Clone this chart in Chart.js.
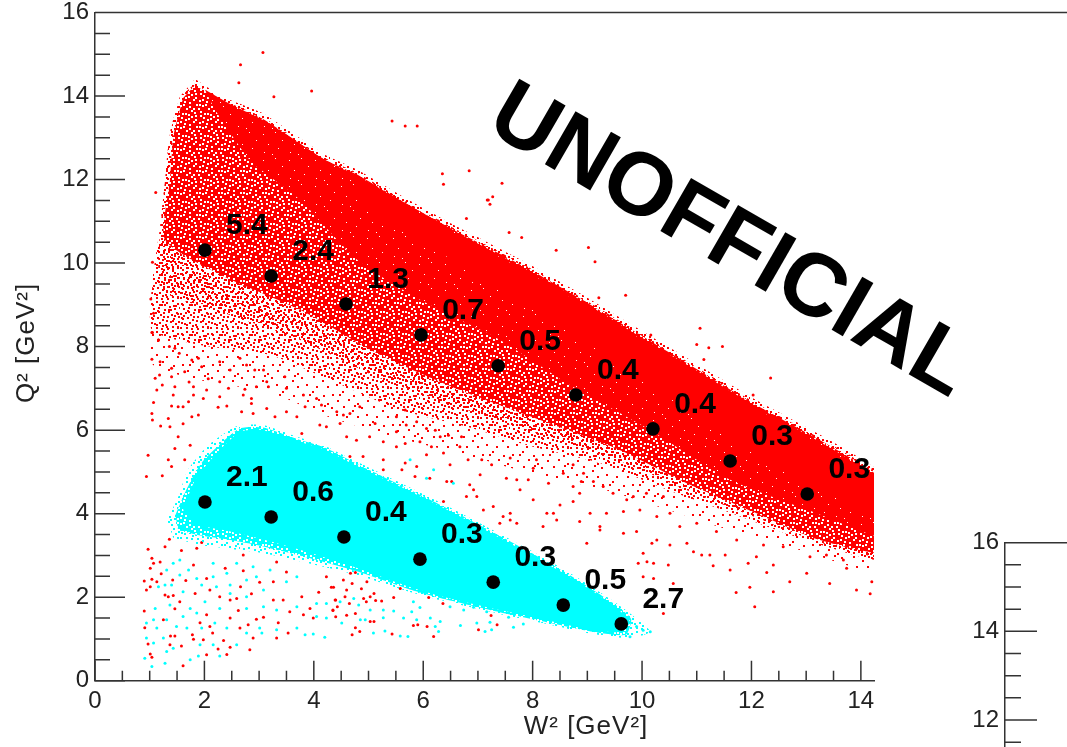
<!DOCTYPE html>
<html lang="en">
<head>
    <meta charset="UTF-8">
    <title>Q2 vs W2 coverage</title>
    <script src="https://cdn.jsdelivr.net/npm/chart.js"></script>
    <style>
        html, body { margin: 0; padding: 0; width: 1067px; height: 747px; overflow: hidden; background: #fff; }
        canvas { position: absolute; }
        #mainChart { left: 0; top: 0; }
        #nextChart { left: 960px; top: 530px; }
    </style>
</head>
<body>
    <canvas id="mainChart" width="1067" height="747"></canvas>
    <canvas id="nextChart" width="900" height="760"></canvas>

    <script>
        // Axis ticks
        const xMajor = [0, 2, 4, 6, 8, 10, 12, 14];
        const xMinor = [0.5, 1, 1.5, 2.5, 3, 3.5, 4.5, 5, 5.5, 6.5, 7, 7.5, 8.5, 9, 9.5, 10.5, 11, 11.5, 12.5, 13, 13.5];
        const yMajor = [0, 2, 4, 6, 8, 10, 12, 14, 16];
        const yMinor = [0.5, 1, 1.5, 2.5, 3, 3.5, 4.5, 5, 5.5, 6.5, 7, 7.5, 8.5, 9, 9.5, 10.5, 11, 11.5, 12.5, 13, 13.5, 14.5, 15, 15.5];

        // Black bin centres with their values
        const upperW = [2.01, 3.22, 4.59, 5.96, 7.37, 8.79, 10.2, 11.61, 13.02];
        const upperQ = [10.31, 9.69, 9.02, 8.28, 7.54, 6.84, 6.03, 5.26, 4.47];
        const upperValues = ['5.4', '2.4', '1.3', '0.7', '0.5', '0.4', '0.4', '0.3', '0.3'];
        const lowerW = [2.01, 3.22, 4.55, 5.94, 7.28, 8.56, 9.62];
        const lowerQ = [4.28, 3.92, 3.44, 2.91, 2.36, 1.81, 1.36];
        const lowerValues = ['2.1', '0.6', '0.4', '0.3', '0.3', '0.5', '2.7'];

        // The event clouds are far too dense to read point by point, so their
        // bodies are outlines traced off the picture and filled with a speckle
        const redThinW = [1.83, 2.34, 3.07, 4.17, 4.79, 5.63, 6.62, 7.04, 8.01, 8.87, 9.65, 10.69, 11.92, 14.53, 14.53, 12.83, 11.61, 10.46, 9.23, 8.01, 6.80, 5.58, 4.30, 3.20, 1.92, 1.04, 1.06, 1.19];
        const redThinQ = [14.33, 13.90, 13.50, 12.54, 12.16, 11.51, 10.79, 10.51, 9.84, 9.19, 8.57, 7.75, 6.77, 4.71, 2.60, 3.15, 3.60, 4.10, 4.60, 4.95, 5.40, 5.80, 6.30, 6.90, 7.20, 7.60, 9.67, 10.87];
        const redEnvelopeW = [1.83, 2.34, 3.07, 4.17, 4.79, 5.63, 6.62, 7.04, 8.01, 8.87, 9.65, 10.69, 11.92, 14.53, 14.53, 12.83, 11.61, 10.46, 9.23, 8.01, 6.80, 5.58, 4.30, 3.20, 1.92, 1.04, 1.06, 1.19, 1.28, 1.37, 1.55];
        const redEnvelopeQ = [14.41, 13.98, 13.58, 12.62, 12.24, 11.59, 10.87, 10.59, 9.92, 9.27, 8.65, 7.83, 6.85, 4.79, 2.89, 3.44, 4.02, 4.57, 5.21, 5.60, 6.08, 6.48, 7.20, 7.80, 8.04, 8.40, 9.67, 10.87, 11.99, 13.11, 13.98];
        const redBlendW = [1.83, 2.34, 3.07, 4.17, 4.79, 5.63, 6.62, 7.04, 8.01, 8.87, 9.65, 10.69, 11.92, 14.53, 14.53, 13.25, 12.16, 10.88, 9.60, 8.14, 6.67, 5.21, 3.75, 2.29, 1.20, 1.28, 1.37, 1.55];
        const redBlendQ = [14.30, 13.89, 13.49, 12.54, 12.16, 11.51, 10.79, 10.51, 9.84, 9.19, 8.57, 7.75, 6.77, 4.71, 2.98, 3.31, 3.87, 4.53, 5.26, 5.90, 6.54, 7.24, 8.16, 8.84, 9.40, 11.99, 13.09, 13.97];
        const redMidW = [1.83, 2.34, 3.07, 4.17, 4.79, 5.63, 6.62, 7.04, 8.01, 8.87, 9.65, 10.69, 11.92, 14.53, 14.53, 13.25, 12.16, 10.88, 9.60, 8.14, 6.67, 5.21, 3.75, 2.29, 1.28, 1.37, 1.44, 1.61];
        const redMidQ = [14.26, 13.85, 13.45, 12.50, 12.12, 11.47, 10.75, 10.47, 9.80, 9.15, 8.53, 7.71, 6.73, 4.67, 3.08, 3.37, 3.97, 4.69, 5.52, 6.24, 6.96, 7.80, 8.88, 9.72, 10.55, 11.99, 13.07, 13.95];
        const redCoreW = [2.01, 2.47, 3.11, 4.20, 4.81, 5.67, 6.64, 8.01, 8.87, 9.65, 10.69, 11.92, 14.53, 14.53, 13.13, 11.61, 10.15, 8.68, 7.40, 5.94, 4.79, 3.75, 2.83, 2.19];
        const redCoreQ = [14.15, 13.81, 13.40, 12.47, 12.08, 11.44, 10.72, 9.76, 9.12, 8.49, 7.67, 6.70, 4.64, 3.41, 4.04, 4.81, 6.00, 7.08, 8.16, 9.12, 10.08, 11.51, 12.47, 13.67];
        const redSolidW = [4.81, 6.64, 8.01, 9.65, 11.92, 14.53, 14.53, 12.52, 10.69, 9.23, 7.40, 5.94, 4.84];
        const redSolidQ = [12.04, 10.67, 9.71, 8.44, 6.65, 4.59, 3.84, 5.05, 6.60, 7.92, 9.36, 10.55, 11.39];
        const cyanEnvelopeW = [1.32, 1.52, 1.70, 2.07, 2.60, 3.07, 3.69, 4.17, 4.79, 5.70, 6.62, 7.95, 8.74, 9.47, 9.84, 10.15, 9.78, 9.10, 8.26, 7.40, 6.31, 5.70, 4.79, 3.88, 2.96, 2.34, 1.92, 1.43];
        const cyanEnvelopeQ = [3.85, 4.40, 5.05, 5.64, 6.10, 6.12, 5.84, 5.64, 5.24, 4.66, 4.06, 3.13, 2.53, 1.91, 1.55, 1.17, 1.02, 1.12, 1.36, 1.60, 1.93, 2.15, 2.53, 2.82, 3.08, 3.18, 3.25, 3.42];
        const cyanMidW = [1.47, 1.68, 1.95, 2.63, 3.07, 3.69, 4.17, 4.79, 5.70, 6.62, 7.95, 8.74, 9.47, 9.80, 9.70, 9.10, 8.26, 7.40, 6.31, 5.70, 4.79, 3.88, 2.96, 2.34, 1.88, 1.52];
        const cyanMidQ = [3.97, 4.60, 5.22, 6.03, 6.06, 5.79, 5.60, 5.19, 4.61, 4.01, 3.08, 2.48, 1.86, 1.48, 1.10, 1.17, 1.40, 1.64, 1.98, 2.21, 2.62, 2.95, 3.25, 3.40, 3.49, 3.60];
        const cyanSolidW = [1.61, 1.83, 2.19, 2.65, 3.07, 3.69, 4.17, 4.79, 5.70, 6.62, 7.95, 8.74, 9.47, 9.78, 9.60, 9.10, 8.26, 7.40, 6.31, 5.70, 4.79, 3.88, 2.96, 2.34, 1.83];
        const cyanSolidQ = [4.09, 4.81, 5.40, 5.96, 6.00, 5.74, 5.55, 5.14, 4.57, 3.97, 3.03, 2.44, 1.81, 1.41, 1.17, 1.21, 1.45, 1.69, 2.03, 2.27, 2.70, 3.08, 3.42, 3.61, 3.73];

        // Loose events, read one by one from the sparse parts of the picture
        const redLooseW = [
            0.97, 1.04, 1.07, 1.19, 1.01, 1.21, 0.90, 1.04, 1.13, 1.01, 0.94, 1.34, 1.43, 1.28, 1.42, 1.66, 1.80, 1.86, 1.95, 1.58, 1.36, 1.28,
            2.04, 1.83, 2.10, 2.47, 2.59, 2.28, 2.66, 2.86, 3.01, 3.26, 3.50, 3.32, 2.71, 2.38, 2.71, 3.44, 3.78, 3.93, 4.09, 4.23, 4.32, 4.39, 4.35,
            3.56, 3.81, 3.35, 3.53, 3.32, 2.89, 2.83, 2.47, 2.25, 2.41, 2.04, 1.61, 1.04, 1.01, 1.58, 1.38, 1.46, 1.78, 1.80, 1.98, 2.15, 2.35,
            2.65, 2.80, 2.95, 3.08, 2.62, 2.04, 1.92, 1.55, 1.46, 1.25, 0.91, 0.90, 0.97, 1.37, 2.10, 2.47, 3.26, 3.99,
            4.67, 4.76, 4.54, 4.70, 4.97, 4.87, 4.60, 4.36, 4.57, 5.10, 5.03, 4.91, 5.24, 4.40, 4.43, 4.65, 4.35, 4.60, 4.40, 4.76,
            4.96, 5.13, 5.46, 5.58, 6.10, 6.30, 6.36, 5.03, 5.10, 4.76, 4.84, 4.70, 5.43, 5.82, 5.90, 6.07, 6.19, 7.24, 7.35, 7.01,
            1.07, 1.05, 1.16, 1.36, 1.46, 1.54, 1.04, 1.19, 1.40, 1.64, 1.18, 1.10, 1.40, 1.23, 1.13, 1.46, 1.43, 1.72, 1.80, 1.80, 1.71, 1.61, 1.52, 1.40,
            1.07, 1.04, 1.05, 1.34, 1.20, 1.37, 1.61, 1.77, 1.89, 1.98, 2.04, 2.07, 2.28, 2.44, 2.28, 2.25, 2.41, 2.74, 2.95, 3.17, 2.71, 2.86, 2.86, 2.68,
            2.89, 3.14, 3.29, 3.50, 3.69, 3.84, 3.81, 4.05, 4.14, 3.50, 3.14, 3.47, 3.08, 2.92, 2.65, 2.28, 1.89, 1.95, 2.47, 2.77, 1.77,
            0.97, 1.34, 1.40, 1.46, 1.64, 0.94, 1.23, 1.52, 1.74, 4.42, 4.23, 4.54, 4.66, 4.84, 4.11, 4.48, 4.78, 4.60, 5.02, 5.27, 5.51, 5.69, 5.27, 4.90, 4.66, 5.27, 5.51, 5.12, 5.51, 3.78,
            5.67, 5.88, 6.06, 6.22, 5.94, 5.67, 6.31, 6.46, 6.70, 6.15, 6.37, 6.67, 6.49, 6.06, 5.88, 5.67, 5.61, 5.85, 6.12, 6.43,
            6.82, 7.07, 6.85, 7.04, 7.25, 7.59, 7.28, 7.52, 7.71, 7.92, 8.07, 8.01, 8.29, 8.56, 8.74, 8.93, 8.89, 8.74, 9.11, 9.29, 9.47, 9.72, 9.84, 10.08, 10.39,
            8.26, 8.38, 8.50, 8.74, 8.86, 9.05, 9.35, 9.66, 9.96, 10.27, 10.51, 7.59, 7.46, 7.71, 6.79, 6.98, 7.10, 6.37, 6.92, 6.52, 7.77, 8.01, 7.40, 8.44, 9.23, 8.19, 8.86, 7.59,
            10.69, 11.00, 11.36, 11.73, 12.22, 12.58, 13.07, 13.68, 13.74, 13.01, 12.70, 13.43, 13.92, 14.17, 14.20, 12.40, 11.97, 11.72, 12.06, 12.28, 12.40, 11.94, 11.61, 11.30,
            10.94, 10.82, 10.51, 10.18, 10.02, 10.09, 9.93, 10.21, 10.48, 10.02, 10.21, 10.57, 10.39, 10.27, 9.66, 9.23, 8.99, 9.90, 11.24, 11.52, 11.09, 12.09, 13.37,
            3.07, 2.66, 2.63, 3.27, 3.96, 5.43, 5.67, 5.89, 6.35, 6.84, 6.37, 7.19, 6.79, 1.11, 1.05, 1.02, 1.16, 1.04,
            7.44, 7.27, 7.17, 7.22, 7.57, 7.80, 8.43, 9.02, 9.14, 9.21, 9.70, 10.16, 11.06, 11.00, 11.22, 11.47, 11.13, 12.35, 12.03
        ];
        const redLooseQ = [
            3.15, 2.93, 2.81, 2.84, 2.69, 2.56, 2.39, 2.43, 2.37, 2.25, 2.17, 2.01, 2.04, 2.05, 2.41, 2.40, 2.77, 3.17, 3.31, 3.12, 3.39, 3.21,
            2.45, 2.09, 2.17, 1.93, 1.97, 2.01, 2.25, 2.08, 2.36, 2.37, 2.60, 2.84, 3.01, 2.69, 2.63, 1.93, 2.01, 1.73, 2.12, 2.49, 2.24, 1.93, 1.69,
            1.65, 1.58, 1.39, 1.14, 1.02, 1.02, 0.74, 0.80, 0.76, 0.63, 0.62, 0.36, 0.56, 0.64, 0.83, 1.07, 1.07, 1.10, 0.99, 0.98, 1.14, 0.96,
            1.26, 1.34, 1.47, 1.52, 1.68, 1.58, 1.39, 1.89, 1.72, 1.46, 1.27, 1.67, 0.88, 0.86, 1.30, 1.50, 1.93, 1.50,
            2.57, 2.59, 2.41, 2.33, 2.37, 2.20, 2.17, 2.24, 2.01, 2.09, 2.01, 1.97, 1.91, 1.93, 1.77, 1.85, 1.68, 1.57, 1.53, 1.61,
            1.89, 1.92, 1.99, 2.21, 1.99, 2.05, 1.85, 1.42, 1.42, 1.27, 1.18, 1.10, 1.12, 1.32, 1.34, 1.30, 1.06, 1.56, 1.34, 1.22,
            8.80, 8.34, 8.16, 8.00, 7.96, 7.84, 7.70, 7.64, 7.48, 7.40, 7.32, 7.24, 7.28, 7.08, 6.96, 7.04, 6.84, 7.15, 7.04, 6.84, 6.68, 6.56, 6.56, 6.58,
            6.66, 6.40, 6.24, 6.28, 6.10, 6.08, 6.15, 6.32, 6.36, 6.76, 6.96, 7.23, 7.16, 7.00, 6.80, 6.55, 6.58, 6.98, 7.04, 7.04, 6.84, 6.76, 6.64, 6.44,
            6.40, 6.52, 6.32, 6.44, 6.32, 6.56, 6.84, 6.76, 6.60, 7.00, 7.16, 7.28, 7.44, 7.44, 7.72, 7.64, 7.72, 7.52, 7.44, 7.56, 7.68,
            5.40, 5.29, 5.13, 5.56, 5.29, 4.89, 4.91, 5.84, 5.64, 6.44, 6.08, 6.36, 6.40, 6.56, 6.12, 6.16, 5.76, 5.84, 5.84, 5.72, 5.96, 6.12, 5.05, 5.37, 5.37, 5.29, 5.60, 6.16, 6.32, 5.92,
            6.48, 6.20, 6.04, 6.00, 5.72, 5.68, 5.84, 5.88, 5.84, 5.60, 5.45, 5.60, 5.17, 5.41, 5.13, 5.21, 5.05, 4.89, 4.85, 4.77,
            5.29, 5.29, 4.69, 4.93, 5.17, 5.33, 4.17, 4.85, 4.81, 4.81, 5.29, 5.09, 4.73, 4.97, 5.17, 4.97, 4.77, 4.65, 4.77, 4.65, 4.49, 4.33, 4.41, 4.49, 4.41,
            4.01, 4.01, 4.21, 4.29, 4.49, 4.01, 4.01, 4.05, 4.09, 3.93, 4.01, 4.01, 3.93, 3.77, 4.41, 4.41, 4.09, 4.29, 4.57, 4.77, 4.57, 4.33, 3.77, 3.85, 3.69, 3.69, 3.81, 3.85,
            3.69, 3.77, 3.57, 3.37, 3.25, 3.21, 2.97, 2.89, 2.69, 2.57, 2.37, 2.33, 2.17, 2.08, 2.37, 2.13, 2.24, 2.11, 1.77, 2.59, 2.77, 2.81, 2.65, 2.75,
            3.09, 3.29, 3.25, 3.29, 3.05, 2.85, 2.81, 2.81, 2.77, 2.49, 2.45, 2.33, 1.61, 3.37, 3.53, 3.61, 3.29, 3.57, 3.01, 3.01, 3.01, 2.97, 3.01,
            15.04, 14.75, 14.32, 13.98, 14.12, 13.40, 13.28, 13.28, 12.14, 12.21, 11.89, 11.51, 11.07, 11.69, 10.02, 9.14, 8.16, 8.34,
            11.91, 11.59, 11.51, 11.41, 10.73, 10.61, 10.31, 10.37, 10.03, 9.17, 9.23, 8.28, 8.44, 8.05, 7.97, 8.00, 7.69, 7.25, 6.84
        ];
        const cyanLooseW = [
            1.43, 1.31, 1.55, 1.71, 1.55, 1.40, 1.86, 1.61, 1.16, 1.28, 1.95, 2.16, 2.16, 2.41, 2.59, 2.89, 2.47, 2.77, 2.95, 3.20, 3.69, 3.50, 3.08, 2.77, 2.47, 2.22,
            2.01, 1.74, 1.37, 1.10, 1.07, 0.94, 1.13, 1.31, 1.61, 1.86, 2.28, 2.77, 3.08, 3.32, 3.69, 4.05, 4.23, 4.05, 4.23, 3.69, 3.32, 3.01, 2.77, 2.41, 2.19, 1.95,
            1.68, 1.49, 1.25, 1.07, 0.94, 1.43, 1.31, 1.92, 2.16, 2.59, 0.91, 1.04, 1.28, 1.74, 1.89, 2.28, 3.05, 3.84, 3.99, 4.20,
            4.48, 4.73, 4.82, 5.27, 5.46, 5.03, 5.82, 5.94, 5.79, 6.13, 5.64, 5.88, 6.31, 5.27, 4.94, 4.85, 4.51, 5.09, 5.30, 5.58, 5.72, 6.22, 6.28, 6.68, 6.98, 7.22, 7.13, 7.25, 7.56, 7.65, 7.83, 6.49, 6.74, 6.92, 7.16,
            9.78, 10.02, 10.15, 9.90, 5.76, 6.06, 6.55, 6.19
        ];
        const cyanLooseQ = [
            2.81, 2.65, 2.89, 2.65, 2.53, 2.29, 2.45, 2.13, 2.25, 2.29, 2.29, 2.81, 2.49, 2.57, 2.81, 2.73, 2.29, 2.41, 2.49, 2.65, 2.49, 2.37, 2.17, 2.01, 2.09, 2.25,
            1.89, 1.73, 1.81, 1.73, 1.46, 1.38, 1.26, 1.46, 1.54, 1.62, 1.73, 1.73, 1.77, 1.69, 1.77, 1.85, 1.85, 1.54, 1.50, 1.26, 1.22, 1.26, 1.14, 1.26, 1.38, 1.26,
            1.26, 1.30, 1.02, 0.90, 1.02, 0.78, 0.70, 0.86, 0.86, 0.86, 0.54, 0.34, 0.42, 0.50, 0.59, 0.59, 1.14, 1.10, 1.12, 1.04,
            1.89, 1.97, 1.81, 1.69, 1.67, 1.69, 1.89, 1.75, 1.65, 1.50, 1.50, 1.46, 1.42, 1.51, 1.46, 1.46, 1.38, 1.14, 1.19, 1.07, 1.06, 1.30, 1.18, 1.32, 1.38, 1.40, 1.18, 1.22, 1.52, 1.28, 1.36, 1.77, 1.69, 1.76, 1.65,
            1.05, 1.21, 1.17, 1.30, 5.29, 4.85, 4.73, 5.05
        ];

        // Speckle tiles, dot positions placed by hand
        const thinDots = [[2,4],[12,1],[23,5],[7,10],[18,9],[27,13],[1,17],[13,16],[22,20],[6,24],[16,26],[27,26],[9,4],[24,15]];
        const sparseDots = [[1,3],[6,1],[11,4],[16,2],[22,0],[27,3],[3,8],[8,7],[14,9],[19,6],[24,8],[29,7],[0,13],[5,12],[10,14],[13,12],[18,11],[21,14],[26,12],[2,18],[7,17],[12,19],[17,16],[23,18],[28,16],[4,23],[9,22],[15,24],[20,21],[25,23],[0,27],[6,27],[11,28],[17,28],[22,26],[27,27],[14,4],[25,5],[8,11],[20,9],[3,15],[16,20],[28,21],[12,25],[1,22]];
        const blendDots = [[1,2],[6,0],[11,3],[16,1],[3,6],[9,7],[14,6],[18,9],[0,10],[6,11],[12,11],[16,13],[3,14],[9,15],[14,16],[0,17],[6,18],[11,18]];
        const midHoles = [[2,1],[9,3],[15,0],[19,5],[5,7],[12,8],[1,12],[8,13],[17,11],[20,16],[4,17],[13,18],[10,20],[17,20],[0,20],[6,3],[12,4],[18,2],[2,5],[9,9],[15,6],[4,11],[13,14],[19,9],[7,16],[1,16]];
        const coreHoles = [[3,4],[15,2],[22,10],[8,14],[18,18],[4,22],[12,24]];

        function speckle(size, dots, dotSize, dotColor, background) {
            const tile = document.createElement('canvas');
            tile.width = size;
            tile.height = size;
            const ctx = tile.getContext('2d');
            if (background) {
                ctx.fillStyle = background;
                ctx.fillRect(0, 0, size, size);
            }
            ctx.fillStyle = dotColor;
            dots.forEach(d => ctx.fillRect(d[0], d[1], dotSize, dotSize));
            return ctx.createPattern(tile, 'repeat');
        }

        function points(w, q) {
            return w.map((v, i) => ({ x: v, y: q[i] }));
        }

        function body(w, q, fillStyle, order) {
            return { data: points(w, q), showLine: true, fill: 'shape', backgroundColor: fillStyle, borderWidth: 0, pointRadius: 0, tension: 0.2, order: order };
        }

        function loose(w, q, color, order) {
            return { data: points(w, q), showLine: false, pointRadius: 1.5, pointBorderWidth: 0, pointBackgroundColor: color, order: order };
        }

        // ROOT draws its ticks inside the frame, with two lengths
        function frameAxes(xLong, xShort, yLong, yShort) {
            return {
                id: 'frameAxes',
                afterDatasetsDraw(chart) {
                    const { ctx, chartArea: area, scales } = chart;
                    ctx.save();
                    ctx.strokeStyle = '#333';
                    ctx.lineWidth = 1.5;
                    ctx.beginPath();
                    const yTick = (v, len) => {
                        const p = scales.y.getPixelForValue(v);
                        ctx.moveTo(area.left, p);
                        ctx.lineTo(area.left + len, p);
                    };
                    const xTick = (v, len) => {
                        const p = scales.x.getPixelForValue(v);
                        ctx.moveTo(p, area.bottom);
                        ctx.lineTo(p, area.bottom - len);
                    };
                    yMajor.forEach(v => yTick(v, yLong));
                    yMinor.forEach(v => yTick(v, yShort));
                    xMajor.forEach(v => xTick(v, xLong));
                    xMinor.forEach(v => xTick(v, xShort));
                    // the top edge runs on past the cropped frame
                    ctx.moveTo(area.left, area.top);
                    ctx.lineTo(chart.width, area.top);
                    ctx.stroke();
                    ctx.restore();
                }
            };
        }

        const textLayer = {
            id: 'textLayer',
            afterDatasetsDraw(chart) {
                const ctx = chart.ctx;
                ctx.save();
                ctx.fillStyle = '#000';
                ctx.textAlign = 'center';
                ctx.textBaseline = 'middle';
                ctx.font = 'bold 30px "Liberation Sans"';
                [[chart.data.datasets.length - 2, upperValues], [chart.data.datasets.length - 1, lowerValues]].forEach(([index, values]) => {
                    chart.getDatasetMeta(index).data.forEach((pt, i) => ctx.fillText(values[i], pt.x + 42, pt.y - 24));
                });

                ctx.fillStyle = '#222';
                ctx.font = '26px "Liberation Sans"';
                ctx.letterSpacing = '1px';
                ctx.fillText('W² [GeV²]', 586, 727);
                ctx.save();
                ctx.translate(27, 343);
                ctx.rotate(-Math.PI / 2);
                ctx.fillText('Q² [GeV²]', 0, 0);
                ctx.restore();
                ctx.letterSpacing = '0px';

                ctx.fillStyle = '#000';
                ctx.textAlign = 'left';
                ctx.textBaseline = 'alphabetic';
                ctx.font = 'bold 89px "Liberation Sans"';
                ctx.translate(484, 129);
                ctx.rotate(Math.PI / 6);
                ctx.fillText('UNOFFICIAL', 0, 0);
                ctx.restore();
            }
        };

        function scaleOptions(max, major, fixSize, tickFont) {
            return {
                type: 'linear',
                min: 0,
                max: max,
                grid: { display: false, drawTicks: false },
                border: { display: true, color: '#333', width: 1.5 },
                ticks: { color: '#222', font: { size: tickFont }, padding: 6, autoSkip: false, maxRotation: 0, callback: v => String(v) },
                afterBuildTicks(scale) { scale.ticks = major.map(v => ({ value: v })); },
                afterFit: fixSize
            };
        }

        Chart.defaults.font.family = '"Liberation Sans"';

        const redFaint = speckle(30, thinDots, 2, '#ff0000');
        const redSparse = speckle(30, sparseDots, 2, '#ff0000');
        const redBlend = speckle(19, blendDots, 2, '#ff0000');
        const redMid = speckle(22, midHoles, 2, '#ffffff', '#ff0000');
        const redCore = speckle(26, coreHoles, 1, '#ffffff', '#ff0000');
        const cyanEdge = speckle(30, sparseDots, 2, '#00ffff');
        const cyanMid = speckle(22, midHoles, 2, '#ffffff', '#00ffff');

        new Chart(document.getElementById('mainChart'), {
            type: 'scatter',
            data: {
                datasets: [
                    body(redThinW, redThinQ, redFaint, 22),
                    body(redEnvelopeW, redEnvelopeQ, redSparse, 21),
                    body(redBlendW, redBlendQ, redBlend, 20),
                    body(redMidW, redMidQ, redMid, 19),
                    body(redCoreW, redCoreQ, redCore, 18),
                    body(redSolidW, redSolidQ, '#ff0000', 17),
                    loose(redLooseW, redLooseQ, '#ff0000', 16),
                    loose(cyanLooseW, cyanLooseQ, '#00ffff', 15),
                    body(cyanEnvelopeW, cyanEnvelopeQ, cyanEdge, 14),
                    body(cyanMidW, cyanMidQ, cyanMid, 13),
                    body(cyanSolidW, cyanSolidQ, '#00ffff', 12),
                    { data: points(upperW, upperQ), pointRadius: 6.8, pointBackgroundColor: '#000', pointBorderWidth: 0, order: 2 },
                    { data: points(lowerW, lowerQ), pointRadius: 6.8, pointBackgroundColor: '#000', pointBorderWidth: 0, order: 1 }
                ]
            },
            options: {
                responsive: false,
                animation: false,
                devicePixelRatio: 1,
                layout: { padding: { left: 0, top: 12.5, right: 193, bottom: 0 } },
                plugins: { legend: { display: false }, title: { display: false }, tooltip: { enabled: false } },
                scales: {
                    x: scaleOptions(14.24, xMajor, s => { s.height = 66.3; s.paddingLeft = 0; s.paddingRight = 0; }, 24),
                    y: scaleOptions(16, yMajor, s => { s.width = 95; s.paddingTop = 0; s.paddingBottom = 0; }, 24)
                }
            },
            plugins: [frameAxes(20, 10, 30, 15), textLayer]
        });

        // Start of the next panel, cut off by the page edge
        new Chart(document.getElementById('nextChart'), {
            type: 'scatter',
            data: { datasets: [{ data: [] }] },
            options: {
                responsive: false,
                animation: false,
                devicePixelRatio: 1,
                layout: { padding: { left: 0, top: 12.7, right: 60, bottom: 0 } },
                plugins: { legend: { display: false }, title: { display: false }, tooltip: { enabled: false } },
                scales: {
                    x: scaleOptions(14.24, xMajor, s => { s.height = 38; s.paddingLeft = 0; s.paddingRight = 0; }, 24),
                    y: scaleOptions(16, yMajor, s => { s.width = 45; s.paddingTop = 0; s.paddingBottom = 0; }, 24)
                }
            },
            plugins: [frameAxes(21, 11, 32, 16)]
        });
    </script>
</body>
</html>
